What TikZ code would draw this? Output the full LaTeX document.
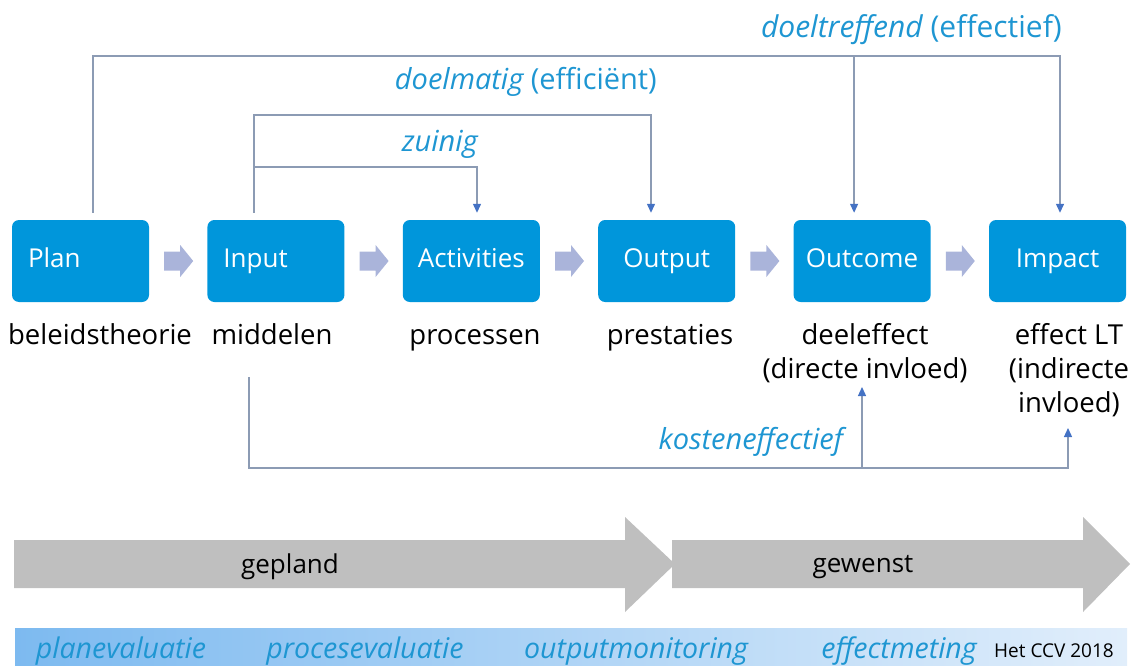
\documentclass[tikz,border=0pt]{standalone}
\usepackage{fontspec}
\setmainfont{Open Sans}
\usetikzlibrary{arrows.meta,calc}
\definecolor{boxblue}{RGB}{0,150,219}
\definecolor{labelblue}{RGB}{30,150,210}
\definecolor{chev}{RGB}{170,180,218}
\definecolor{linegray}{RGB}{140,155,180}
\definecolor{arrowblue}{RGB}{68,114,196}
\definecolor{biggray}{RGB}{191,191,191}
\definecolor{bandL}{RGB}{125,186,240}
\definecolor{bandR}{RGB}{225,238,251}
\begin{document}
\begin{tikzpicture}[x=1pt,y=-1pt,
  box/.style={rectangle, rounded corners=7pt, fill=boxblue, minimum width=137pt, minimum height=82pt,
    inner sep=0pt, text=white, font=\fontsize{26}{30}\selectfont, text height=19pt, text depth=6pt},
  boxl/.style={box, text width=105pt, align=left, inner xsep=16pt},
  lbl/.style={font=\fontsize{27.5}{34}\selectfont, inner sep=0pt, text=black},
  ital/.style={font=\fontsize{29}{33}\selectfont, inner sep=0pt, text=labelblue},
  band/.style={font=\fontsize{28.5}{32}\selectfont\itshape, inner sep=0pt, text=labelblue},
  conn/.style={draw=linegray, line width=1.3pt},
  arr/.style={conn, -{Triangle[length=9pt,width=8pt,color=arrowblue]}},
  bigtxt/.style={font=\fontsize{26}{30}\selectfont, inner sep=0pt, text=black}
]
\useasboundingbox (0,0) rectangle (1132,666);

% boxes
\node[boxl] (plan)     at (80.5,261)  {Plan};
\node[boxl] (input)    at (275.9,261) {Input};
\node[box]  (act)      at (471.3,261) {Activities};
\node[box]  (output)   at (666.7,261) {Output};
\node[box]  (outcome)  at (862.1,261) {Outcome};
\node[box]  (impact)   at (1057.5,261){Impact};

% chevrons between boxes
\foreach \a/\b in {plan/input, input/act, act/output, output/outcome, outcome/impact}{
  \fill[chev] ($(\a.east)+(15,-9.5)$) -- ($(\a.east)+(31,-9.5)$) -- ($(\a.east)+(31,-16)$)
     -- ($(\a.east)+(44,0)$) -- ($(\a.east)+(31,16)$) -- ($(\a.east)+(31,9.5)$)
     -- ($(\a.east)+(15,9.5)$) -- cycle;
}

% labels under boxes
\node[lbl, anchor=base] (lplan) at (100,344) {beleidstheorie};
\node[lbl, anchor=base] (linput) at (272,344) {middelen};
\node[lbl, anchor=base] (lact) at (475,344) {processen};
\node[lbl, anchor=base] (lout) at (670,344) {prestaties};
\node[lbl, anchor=base] (loutc) at (865,344) {\begin{tabular}[t]{@{}c@{}}deeleffect\\(directe invloed)\end{tabular}};
\node[lbl, anchor=base] (limp) at (1069,344) {\begin{tabular}[t]{@{}c@{}}effect LT\\(indirecte\\invloed)\end{tabular}};

% connector anchor points
\path ($(plan.north)+(12.5,-7)$)   coordinate (pA)
      ($(input.north)+(-21.9,-7)$) coordinate (inA)
      ($(act.north)+(5.7,-7)$)     coordinate (acA)
      ($(output.north)+(-15.7,-7)$) coordinate (ouA)
      ($(outcome.north)+(-8,-7)$)  coordinate (ocA)
      ($(impact.north)+(2.5,-7)$)  coordinate (imA);
\coordinate (inB) at (249,377);
\coordinate (ocB) at (862,387);
\coordinate (imB) at (1068,428);

% top connectors
\draw[arr] (pA) -- (pA |- 0,56) -- (imA |- 0,56) -- (imA);
\draw[arr] (ocA |- 0,56) -- (ocA);
\draw[arr] (inA) -- (inA |- 0,115) -- (ouA |- 0,115) -- (ouA);
\draw[arr] (inA |- 0,167) -- (acA |- 0,167) -- (acA);

% bottom connectors
\draw[arr] (inB) -- (inB |- 0,468) -- (imB |- 0,468) -- (imB);
\draw[arr] (ocB |- 0,468) -- (ocB);

% connector labels
\node[ital, anchor=base east, font=\fontsize{30}{34}\selectfont] (tdoel) at (1062,38) {{\itshape doeltreffend} (effectief)};
\node[ital, anchor=base east] (tdm) at (657,90) {{\itshape doelmatig} (efficiënt)};
\node[ital, anchor=base east] (tzu) at (478,152) {\itshape zuinig};
\node[ital, anchor=base east] (tko) at (843,449) {\itshape kosteneffectief};

% big gray arrows
\fill[biggray] (14,540) -- (625,540) -- (625,517) -- (675,564) -- (625,612) -- (625,588) -- (14,588) -- cycle;
\fill[biggray] (672,540) -- (1083,540) -- (1083,517) -- (1130,564) -- (1083,612) -- (1083,588) -- (672,588) -- cycle;
\node[bigtxt] (gepland) at (290,567) {gepland};
\node[bigtxt] (gewenst) at (863,567) {gewenst};

% band
\shade[left color=bandL, right color=bandR] (15,628) rectangle (1127,666);
\node[band, anchor=base] (b1) at (121,658) {planevaluatie};
\node[band, anchor=base] (b2) at (365,658) {procesevaluatie};
\node[band, anchor=base] (b3) at (636,658) {outputmonitoring};
\node[band, anchor=base] (b4) at (899,658) {effectmeting};
\node[font=\fontsize{19}{22}\selectfont, inner sep=0pt, anchor=base] (b5) at (1054,657) {Het CCV 2018};
\end{tikzpicture}
\end{document}
